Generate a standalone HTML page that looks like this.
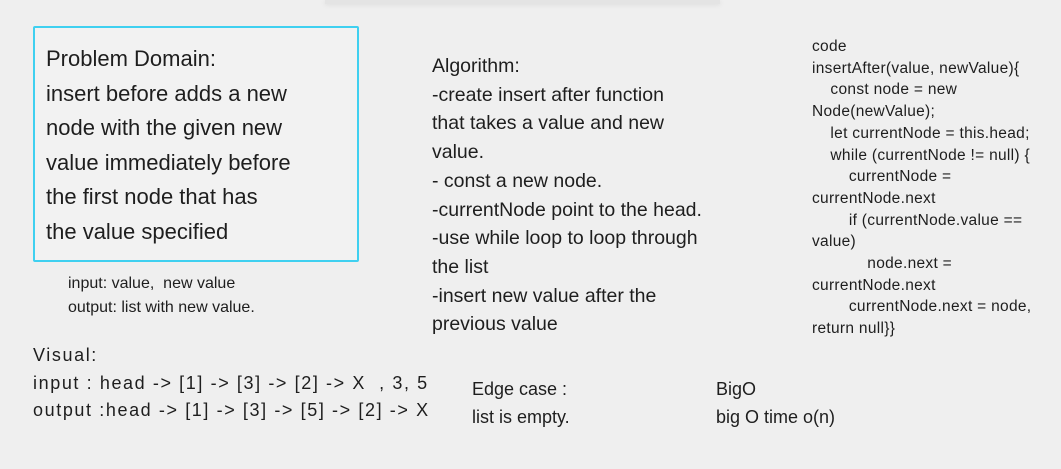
<!DOCTYPE html>
<html><head><meta charset="utf-8"><style>
body{margin:0;width:1061px;height:469px;background:#efefef;position:relative;overflow:hidden;font-family:"Liberation Sans",sans-serif;color:#1e1e1e}
.t{position:absolute;white-space:pre;line-height:1}
.bar{position:absolute;left:325px;top:0;width:395px;height:4px;background:#e4e4e4;box-shadow:0 1px 4px #ddd}
.box{position:absolute;left:33px;top:26px;width:322px;height:232px;border:2px solid #3fd0f0;border-radius:2px;background:#f2f2f2}
</style></head><body>
<div class="bar"></div>
<div class="box"></div>
<div class="t" style="left:46px;top:42px;font-size:22px;line-height:34.5px">Problem Domain:
insert before adds a new
node with the given new
value immediately before
the first node that has
the value specified</div>
<div class="t" style="left:68px;top:272px;font-size:16px;line-height:24px">input: value,  new value
output: list with new value.</div>
<div class="t" style="left:432px;top:52px;font-size:19.5px;line-height:28.7px">Algorithm:
-create insert after function
that takes a value and new
value.
- const a new node.
-currentNode point to the head.
-use while loop to loop through
the list
-insert new value after the
previous value</div>
<div class="t" style="left:812px;top:36px;font-size:15.5px;line-height:21.7px;letter-spacing:0.3px">code
insertAfter(value, newValue){
    const node = new
Node(newValue);
    let currentNode = this.head;
    while (currentNode != null) {
        currentNode =
currentNode.next
        if (currentNode.value ==
value)
            node.next =
currentNode.next
        currentNode.next = node,
return null}}</div>
<div class="t" style="left:33px;top:342px;font-size:18px;line-height:27.5px;letter-spacing:1.6px">Visual:
input : head -&gt; [1] -&gt; [3] -&gt; [2] -&gt; X  , 3, 5
output :head -&gt; [1] -&gt; [3] -&gt; [5] -&gt; [2] -&gt; X</div>
<div class="t" style="left:472px;top:375px;font-size:18px;line-height:28px">Edge case :
list is empty.</div>
<div class="t" style="left:716px;top:375px;font-size:18px;line-height:28px">BigO
big O time o(n)</div>
</body></html>
